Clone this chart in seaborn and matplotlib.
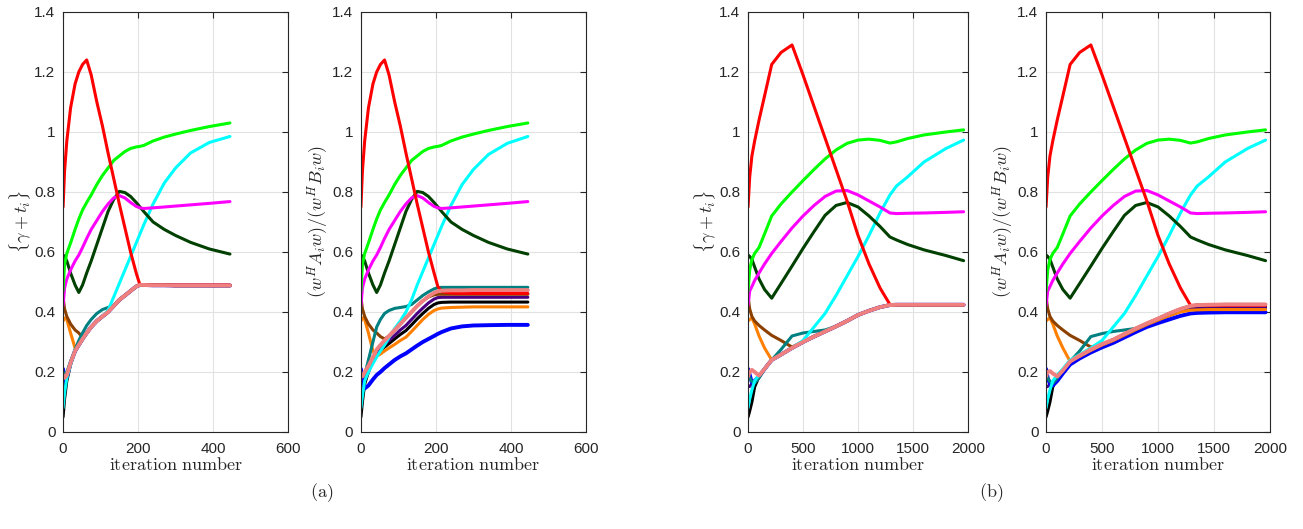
import matplotlib
matplotlib.use("Agg")
import matplotlib.pyplot as plt
import seaborn as sns

# iteration grids for the two experiments
ITER_A = [0, 4, 10, 20, 32, 42, 52, 63, 75, 90, 105, 120, 135, 150, 165, 180,
          195, 205, 215, 240, 270, 300, 340, 390, 445]
ITER_B = [0, 15, 35, 60, 100, 150, 215, 300, 400, 500, 600, 700, 800, 900,
          1000, 1100, 1200, 1290, 1350, 1450, 1600, 1800, 1960]

XTICKS_A = [0, 200, 400, 600]
XTICKS_B = [0, 500, 1000, 1500, 2000]
YTICKS = [0, 0.2, 0.4, 0.6, 0.8, 1.0, 1.2, 1.4]
YTICK_LABELS = ["0", "0.2", "0.4", "0.6", "0.8", "1", "1.2", "1.4"]

# ---- experiment (a) ----
green_a = [0.47, 0.56, 0.595, 0.63, 0.675, 0.71, 0.74, 0.765, 0.79, 0.825, 0.855, 0.88,
           0.905, 0.92, 0.935, 0.945, 0.95, 0.952, 0.955, 0.97, 0.983, 0.993, 1.005, 1.018, 1.03]
magenta_a = [0.42, 0.48, 0.51, 0.54, 0.57, 0.59, 0.615, 0.645, 0.675, 0.705, 0.735, 0.76,
             0.78, 0.788, 0.78, 0.765, 0.752, 0.747, 0.745, 0.747, 0.75, 0.753, 0.757, 0.762, 0.768]
dkgreen_a = [0.59, 0.585, 0.57, 0.53, 0.49, 0.465, 0.49, 0.53, 0.57, 0.625, 0.68, 0.735,
             0.775, 0.802, 0.798, 0.785, 0.765, 0.75, 0.735, 0.70, 0.675, 0.655, 0.632, 0.61, 0.593]
cyan_a1 = [0.08, 0.13, 0.18, 0.225, 0.27, 0.29, 0.31, 0.33, 0.35, 0.37, 0.385, 0.405,
           0.45, 0.495, 0.54, 0.585, 0.63, 0.66, 0.69, 0.76, 0.83, 0.88, 0.93, 0.965, 0.985]
cyan_a2 = [0.08, 0.12, 0.17, 0.2, 0.228, 0.25, 0.27, 0.29, 0.315, 0.345, 0.37, 0.40,
           0.44, 0.49, 0.535, 0.58, 0.625, 0.655, 0.685, 0.755, 0.825, 0.875, 0.925, 0.962, 0.985]
red_a1 = [0.75, 0.87, 0.97, 1.08, 1.16, 1.20, 1.225, 1.24, 1.19, 1.10, 1.02, 0.93,
          0.845, 0.76, 0.68, 0.60, 0.53, 0.49, 0.49, 0.49, 0.49, 0.49, 0.49, 0.49, 0.49]
red_a2 = [0.75, 0.87, 0.97, 1.08, 1.16, 1.20, 1.225, 1.24, 1.19, 1.10, 1.02, 0.93,
          0.845, 0.76, 0.68, 0.60, 0.53, 0.485, 0.468, 0.463, 0.462, 0.462, 0.462, 0.462, 0.462]

salmon_a1 = [0.19, 0.18, 0.19, 0.23, 0.27, 0.29, 0.31, 0.33, 0.35, 0.37, 0.385, 0.40,
             0.42, 0.44, 0.455, 0.47, 0.485, 0.49, 0.49, 0.489, 0.489, 0.488, 0.488, 0.488, 0.488]
teal_a1 = [0.2, 0.19, 0.2, 0.235, 0.275, 0.305, 0.33, 0.355, 0.375, 0.395, 0.408, 0.415,
           0.422] + salmon_a1[13:]
brown_a1 = [0.45, 0.41, 0.385, 0.36, 0.34, 0.33, 0.315] + salmon_a1[7:]
orange_a1 = [0.37, 0.38, 0.375, 0.33, 0.28] + salmon_a1[5:]
blue_a1 = [0.21, 0.17, 0.185, 0.23] + salmon_a1[4:]
indigo_a1 = [0.15, 0.16, 0.18, 0.23] + salmon_a1[4:]
black_a1 = [0.05, 0.11, 0.17, 0.225] + salmon_a1[4:]

salmon_a2 = [0.19, 0.185, 0.2, 0.22, 0.25, 0.275, 0.29, 0.305, 0.32, 0.34, 0.36, 0.38,
             0.40, 0.42, 0.437, 0.452, 0.464, 0.469, 0.471, 0.472, 0.472, 0.473, 0.473, 0.473, 0.473]
teal_a2 = [0.2, 0.185, 0.19, 0.24, 0.30, 0.35, 0.375, 0.395, 0.405, 0.412, 0.415, 0.418,
           0.425, 0.44, 0.455, 0.467, 0.477, 0.481, 0.482, 0.482, 0.482, 0.482, 0.482, 0.482, 0.482]
indigo_a2 = [0.15, 0.16, 0.175, 0.2, 0.24, 0.265, 0.28, 0.292, 0.305, 0.322, 0.34, 0.355,
             0.375, 0.395, 0.413, 0.43, 0.443, 0.448, 0.449, 0.449, 0.449, 0.449, 0.449, 0.449, 0.449]
black_a2 = [0.05, 0.1, 0.16, 0.2, 0.24, 0.26, 0.272, 0.283, 0.295, 0.31, 0.325, 0.338,
            0.357, 0.377, 0.395, 0.412, 0.425, 0.43, 0.432, 0.433, 0.433, 0.433, 0.433, 0.433, 0.433]
orange_a2 = [0.37, 0.38, 0.375, 0.33, 0.27, 0.252, 0.26, 0.27, 0.28, 0.292, 0.305, 0.316,
             0.335, 0.355, 0.375, 0.392, 0.405, 0.41, 0.413, 0.415, 0.416, 0.417, 0.417, 0.417, 0.417]
blue_a2 = [0.21, 0.17, 0.145, 0.155, 0.175, 0.19, 0.2, 0.213, 0.225, 0.24, 0.252, 0.262,
           0.275, 0.288, 0.30, 0.31, 0.32, 0.327, 0.333, 0.345, 0.352, 0.355, 0.356, 0.357, 0.357]
brown_a2 = [0.45, 0.41, 0.385, 0.36, 0.34, 0.33, 0.318, 0.31, 0.32, 0.34, 0.36, 0.38,
            0.40, 0.42, 0.437, 0.45, 0.457, 0.459, 0.459, 0.459, 0.459, 0.459, 0.459, 0.459, 0.459]

# ---- experiment (b) ----
green_b = [0.47, 0.54, 0.575, 0.595, 0.615, 0.66, 0.72, 0.76, 0.80, 0.838, 0.875, 0.91,
           0.94, 0.962, 0.973, 0.976, 0.972, 0.963, 0.967, 0.978, 0.99, 1.0, 1.007]
magenta_b = [0.42, 0.47, 0.485, 0.505, 0.53, 0.56, 0.595, 0.635, 0.68, 0.72, 0.755, 0.785,
             0.803, 0.805, 0.79, 0.77, 0.75, 0.73, 0.728, 0.729, 0.73, 0.732, 0.734]
dkgreen_b = [0.59, 0.585, 0.575, 0.55, 0.51, 0.475, 0.446, 0.495, 0.553, 0.612, 0.668, 0.722,
             0.755, 0.765, 0.75, 0.72, 0.685, 0.65, 0.64, 0.625, 0.607, 0.588, 0.571]
cyan_b = [0.08, 0.11, 0.14, 0.17, 0.19, 0.21, 0.24, 0.258, 0.28, 0.305, 0.35, 0.395,
          0.455, 0.52, 0.585, 0.655, 0.73, 0.79, 0.82, 0.85, 0.9, 0.945, 0.973]
red_b3 = [0.75, 0.85, 0.92, 0.97, 1.04, 1.12, 1.225, 1.265, 1.29, 1.19, 1.085, 0.98,
          0.875, 0.77, 0.655, 0.56, 0.48, 0.425, 0.424, 0.424, 0.424, 0.424, 0.424]
red_b4 = [0.75, 0.85, 0.92, 0.97, 1.04, 1.12, 1.225, 1.265, 1.29, 1.19, 1.085, 0.98,
          0.875, 0.77, 0.655, 0.56, 0.48, 0.422, 0.422, 0.422, 0.422, 0.422, 0.422]

salmon_b3 = [0.185, 0.2, 0.207, 0.2, 0.188, 0.21, 0.24, 0.258, 0.28, 0.3, 0.318, 0.335,
             0.352, 0.37, 0.39, 0.404, 0.416, 0.423, 0.424, 0.424, 0.424, 0.424, 0.424]
teal_b3 = [0.19, 0.18, 0.168, 0.163, 0.18, 0.21, 0.24, 0.275, 0.32, 0.33, 0.335,
           0.34] + salmon_b3[12:]
brown_b3 = [0.45, 0.41, 0.385, 0.37, 0.355, 0.34, 0.322, 0.305, 0.283] + salmon_b3[9:]
orange_b3 = [0.37, 0.375, 0.38, 0.36, 0.32, 0.28] + salmon_b3[6:]
blue_b3 = [0.21, 0.19, 0.165, 0.17, 0.185] + salmon_b3[5:]
indigo_b3 = [0.15, 0.152, 0.16, 0.17, 0.185] + salmon_b3[5:]
black_b3 = [0.05, 0.07, 0.1, 0.15, 0.185] + salmon_b3[5:]

salmon_b4 = [0.185, 0.2, 0.203, 0.195, 0.185, 0.205, 0.235, 0.255, 0.275, 0.293, 0.308, 0.327,
             0.345, 0.362, 0.378, 0.395, 0.41, 0.42, 0.423, 0.424, 0.425, 0.425, 0.425]
teal_b4 = [0.19, 0.18, 0.168, 0.162, 0.18, 0.205, 0.235, 0.27, 0.318, 0.328, 0.335,
           0.34] + salmon_b4[12:]
brown_b4 = [0.45, 0.41, 0.385, 0.37, 0.355, 0.34, 0.322, 0.305, 0.283] + salmon_b4[9:]
blue_b4 = [0.21, 0.18, 0.16, 0.155, 0.17, 0.195, 0.225, 0.245, 0.265, 0.282, 0.297, 0.315,
           0.333, 0.35, 0.363, 0.375, 0.387, 0.395, 0.397, 0.398, 0.399, 0.399, 0.399]
indigo_b4 = [0.15, 0.152, 0.158, 0.165, 0.18, 0.2, 0.228, 0.25, 0.27, 0.288, 0.303, 0.321,
             0.34, 0.356, 0.372, 0.388, 0.402, 0.411, 0.413, 0.414, 0.414, 0.414, 0.414]
orange_b4 = [0.37, 0.375, 0.38, 0.36, 0.32, 0.28, 0.235, 0.252, 0.272, 0.29, 0.305, 0.323,
             0.341, 0.358, 0.373, 0.388, 0.4, 0.406, 0.407, 0.408, 0.408, 0.408, 0.408]
black_b4 = [0.05, 0.07, 0.1, 0.15, 0.18, 0.2, 0.23, 0.252, 0.272, 0.29, 0.306, 0.324,
            0.343, 0.359, 0.375, 0.391, 0.405, 0.414, 0.416, 0.417, 0.417, 0.417, 0.417]

COLORS = {
    "black": "#000000", "indigo": "#4b0082", "blue": "#0000ff", "orange": "#ff8000",
    "brown": "#8b4000", "teal": "#008080", "cyan": "#00ffff", "dkgreen": "#004000",
    "magenta": "#ff00ff", "green": "#00ff00", "red": "#ff0000", "salmon": "#f08080",
}
ORDER = ["black", "indigo", "blue", "orange", "brown", "teal", "cyan", "dkgreen",
         "magenta", "green", "red", "salmon"]

panels = [
    (ITER_A, XTICKS_A, 600, {"black": black_a1, "indigo": indigo_a1, "blue": blue_a1,
                             "orange": orange_a1, "brown": brown_a1, "teal": teal_a1,
                             "cyan": cyan_a1, "dkgreen": dkgreen_a, "magenta": magenta_a,
                             "green": green_a, "red": red_a1, "salmon": salmon_a1}),
    (ITER_A, XTICKS_A, 600, {"black": black_a2, "indigo": indigo_a2, "blue": blue_a2,
                             "orange": orange_a2, "brown": brown_a2, "teal": teal_a2,
                             "cyan": cyan_a2, "dkgreen": dkgreen_a, "magenta": magenta_a,
                             "green": green_a, "red": red_a2, "salmon": salmon_a2}),
    (ITER_B, XTICKS_B, 2000, {"black": black_b3, "indigo": indigo_b3, "blue": blue_b3,
                              "orange": orange_b3, "brown": brown_b3, "teal": teal_b3,
                              "cyan": cyan_b, "dkgreen": dkgreen_b, "magenta": magenta_b,
                              "green": green_b, "red": red_b3, "salmon": salmon_b3}),
    (ITER_B, XTICKS_B, 2000, {"black": black_b4, "indigo": indigo_b4, "blue": blue_b4,
                              "orange": orange_b4, "brown": brown_b4, "teal": teal_b4,
                              "cyan": cyan_b, "dkgreen": dkgreen_b, "magenta": magenta_b,
                              "green": green_b, "red": red_b4, "salmon": salmon_b4}),
]
ylabels = [r"$\{\gamma + t_i\}$", r"$(w^H A_i w)/(w^H B_i w)$"] * 2

sns.set_theme(style="whitegrid")
plt.rcParams.update({
    "font.family": ["Liberation Sans", "DejaVu Sans"],
    "mathtext.fontset": "cm",
    "axes.edgecolor": "#262626",
    "axes.linewidth": 0.8,
    "grid.color": "#e2e2e2",
    "grid.linewidth": 0.8,
    "xtick.direction": "in", "ytick.direction": "in",
    "xtick.top": True, "ytick.right": True,
    "xtick.major.size": 4, "ytick.major.size": 4,
    "xtick.major.width": 0.8, "ytick.major.width": 0.8,
    "xtick.major.pad": 7, "ytick.major.pad": 5.5,
    "xtick.color": "#262626", "ytick.color": "#262626",
    "xtick.labelcolor": "#262626", "ytick.labelcolor": "#262626",
    "xtick.labelsize": 11, "ytick.labelsize": 11,
})

fig = plt.figure(figsize=(13.03, 5.29), dpi=100)
positions = [[0.0484, 0.1834, 0.1727, 0.794], [0.2770, 0.1834, 0.1727, 0.794],
             [0.5741, 0.1834, 0.1688, 0.794], [0.8028, 0.1834, 0.1719, 0.794]]

for pos, (iters, xticks, xmax, series), ylab in zip(positions, panels, ylabels):
    ax = fig.add_axes(pos)
    for name in ORDER:
        lw = 2.8 if name in ("salmon", "blue") else 2.2
        sns.lineplot(x=iters, y=series[name], ax=ax, color=COLORS[name],
                     linewidth=lw, estimator=None, sort=False)
    ax.set_xlim(0, xmax)
    ax.set_ylim(0, 1.4)
    ax.set_xticks(xticks)
    ax.set_yticks(YTICKS)
    ax.set_yticklabels(YTICK_LABELS)
    ax.set_xlabel(r"$\mathrm{iteration\ number}$", fontsize=13, labelpad=1)
    ax.set_ylabel(ylab, fontsize=13, labelpad=1)
    for sp in ax.spines.values():
        sp.set_visible(True)
        sp.set_color("#262626")

fig.text(0.247, 0.068, r"$\mathrm{(a)}$", fontsize=13, ha="center", va="center")
fig.text(0.761, 0.068, r"$\mathrm{(b)}$", fontsize=13, ha="center", va="center")

fig.savefig("out.png", dpi=100)
